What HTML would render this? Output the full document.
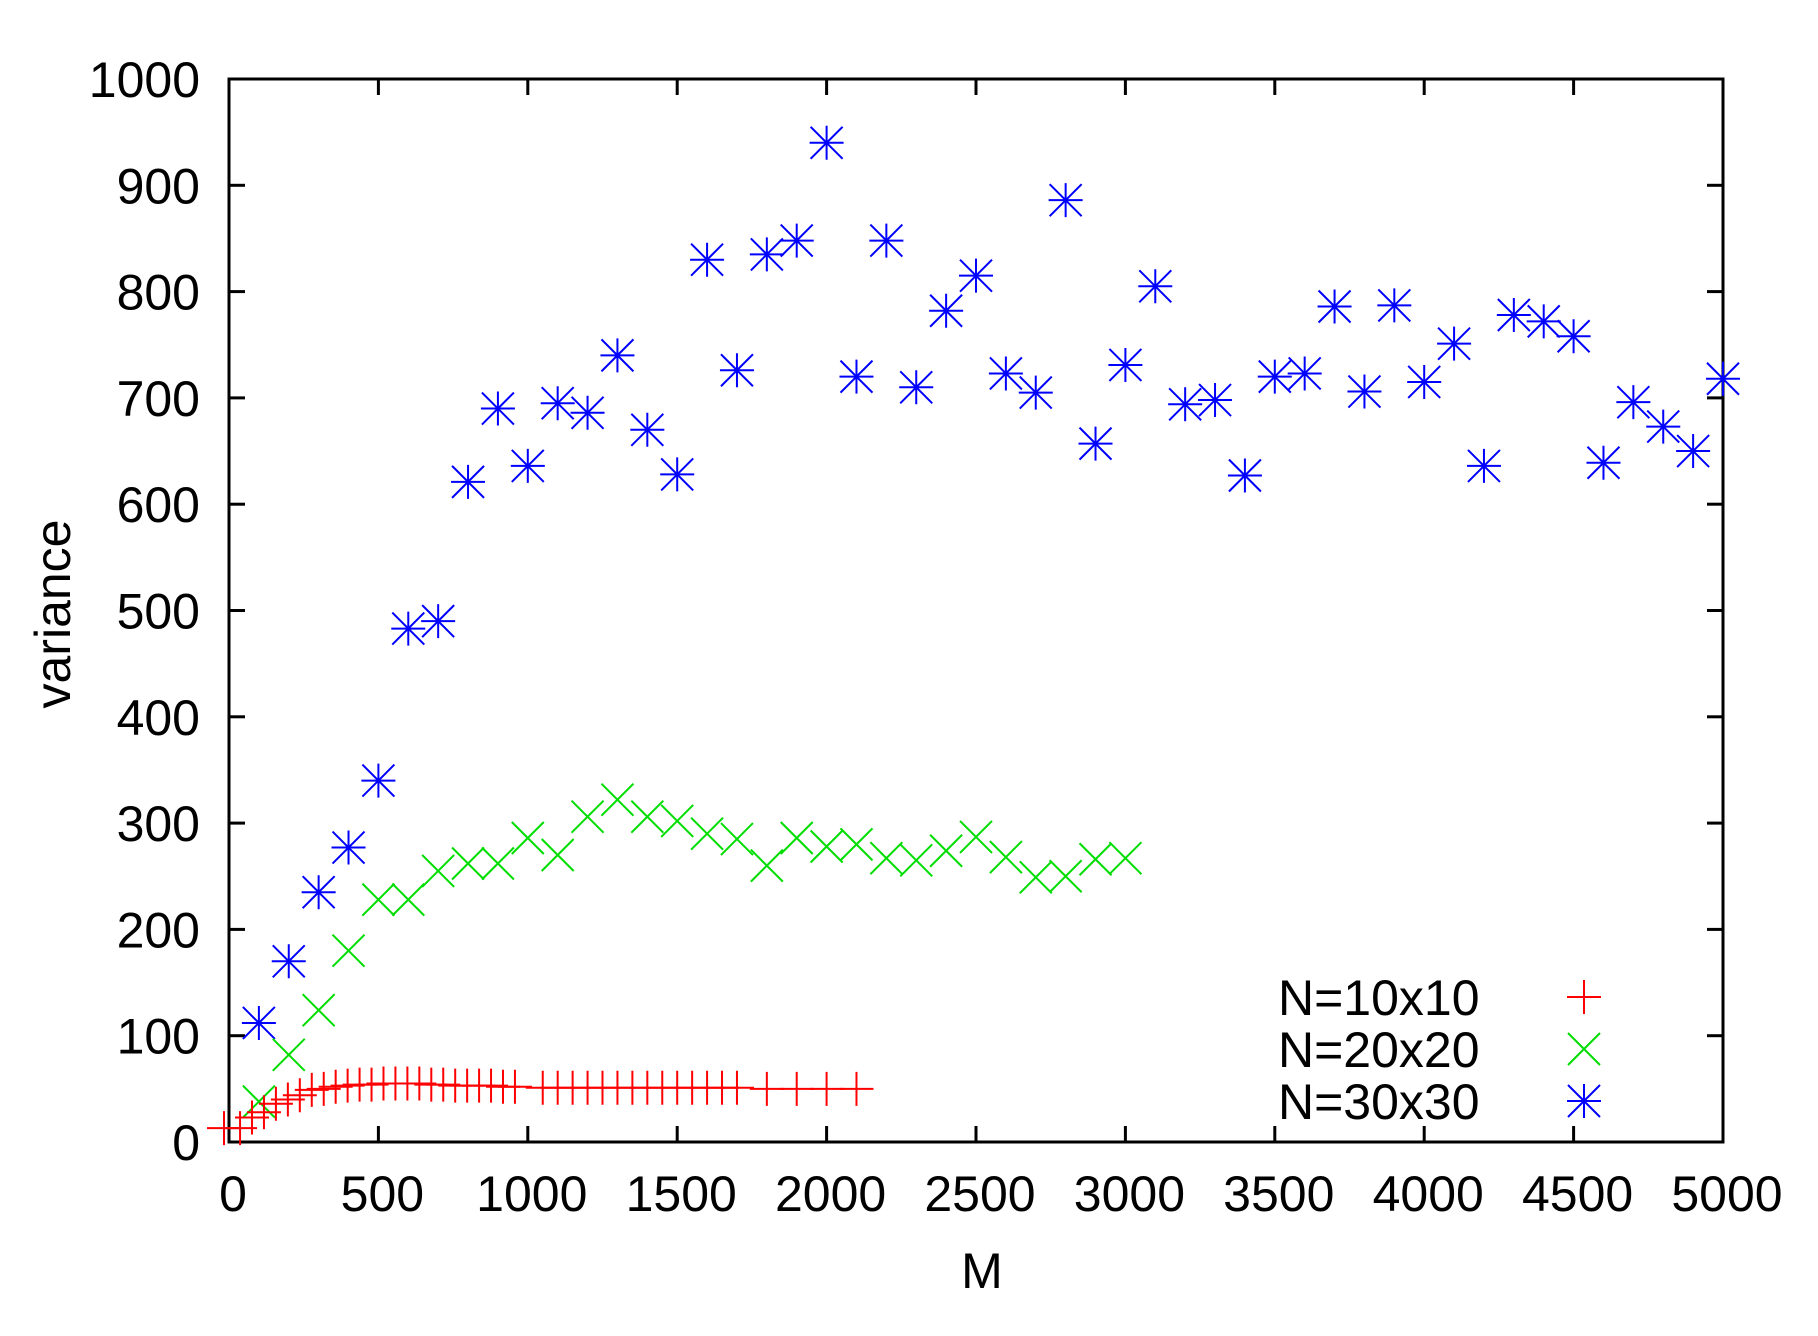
<!DOCTYPE html>
<html><head><style>
html,body{margin:0;padding:0;background:#fff;}
svg text{font-family:"Liberation Sans",sans-serif;font-size:50px;fill:#000;}
</style></head><body>
<svg id="s" width="1818" height="1331" xmlns="http://www.w3.org/2000/svg"></svg>
<script>
const s=document.getElementById('s');
const L=229,R=1723,T=79,B=1142;
const X=m=>L+m*(R-L)/5000, Y=v=>B-v*(B-T)/1000;
let h='';
for(let i=0;i<=10;i++){const y=Y(i*100);
 h+=`<line x1="${L}" y1="${y}" x2="${L+16}" y2="${y}" stroke="#000" stroke-width="3"/><line x1="${R}" y1="${y}" x2="${R-16}" y2="${y}" stroke="#000" stroke-width="3"/>`;
 h+=`<text x="200" y="${y+18}" text-anchor="end">${i*100}</text>`;}
for(let i=0;i<=10;i++){const x=X(i*500);
 h+=`<line x1="${x}" y1="${B}" x2="${x}" y2="${B-16}" stroke="#000" stroke-width="3"/><line x1="${x}" y1="${T}" x2="${x}" y2="${T+16}" stroke="#000" stroke-width="3"/>`;
 h+=`<text x="${x+4}" y="1211" text-anchor="middle">${i*500}</text>`;}
h+=`<rect x="${L}" y="${T}" width="${R-L}" height="${B-T}" fill="none" stroke="#000" stroke-width="3"/>`;
h+=`<text x="982" y="1288" text-anchor="middle">M</text>`;
h+=`<text transform="translate(70,614) rotate(-90)" text-anchor="middle">variance</text>`;
const plus=(x,y,c)=>`<path d="M${x-17} ${y}h34M${x} ${y-17}v34" stroke="${c}" stroke-width="2" fill="none"/>`;
const cross=(x,y,c)=>`<path d="M${x-16} ${y-16}l32 32M${x-16} ${y+16}l32 -32" stroke="${c}" stroke-width="2" fill="none"/>`;
const star=(x,y,c)=>plus(x,y,c)+cross(x,y,c);
const blue=[112,170,235,277,340,483,490,621,690,636,695,686,740,670,628,830,726,835,848,940,720,848,710,782,815,723,705,886,657,731,805,694,698,627,720,723,786,706,787,715,751,636,778,772,758,639,696,673,650,718];
blue.forEach((v,i)=>h+=star(X((i+1)*100),Y(v),'#0000ff'));
const green=[38,82,124,180,228,228,255,262,262,286,270,306,322,306,302,290,285,260,286,278,280,267,265,274,287,268,249,250,266,267];
green.forEach((v,i)=>h+=cross(X((i+1)*100),Y(v),'#00dd00'));
const redv=[13,23,28,36,40,44,49,50,52,53,54,54,55,55,55,55,54,54,53,53,53,53,52,52];
redv.forEach((v,i)=>h+=plus(X(37+i*40),Y(v),'#ff0000'));
for(let m=1050;m<=1700;m+=50) h+=plus(X(m),Y(51),'#ff0000');
[1800,1900,2000,2100].forEach(m=>h+=plus(X(m),Y(50),'#ff0000'));
h+=plus(X(0)-5,Y(13),'#ff0000');
const lg=[['N=10x10',plus,'#ff0000'],['N=20x20',cross,'#00dd00'],['N=30x30',star,'#0000ff']];
lg.forEach((l,i)=>{const y=997+i*52;h+=`<text x="1278" y="${y+18}">${l[0]}</text>`+l[1](1584,y,l[2]);});
s.innerHTML=h;
</script>
</body></html>
